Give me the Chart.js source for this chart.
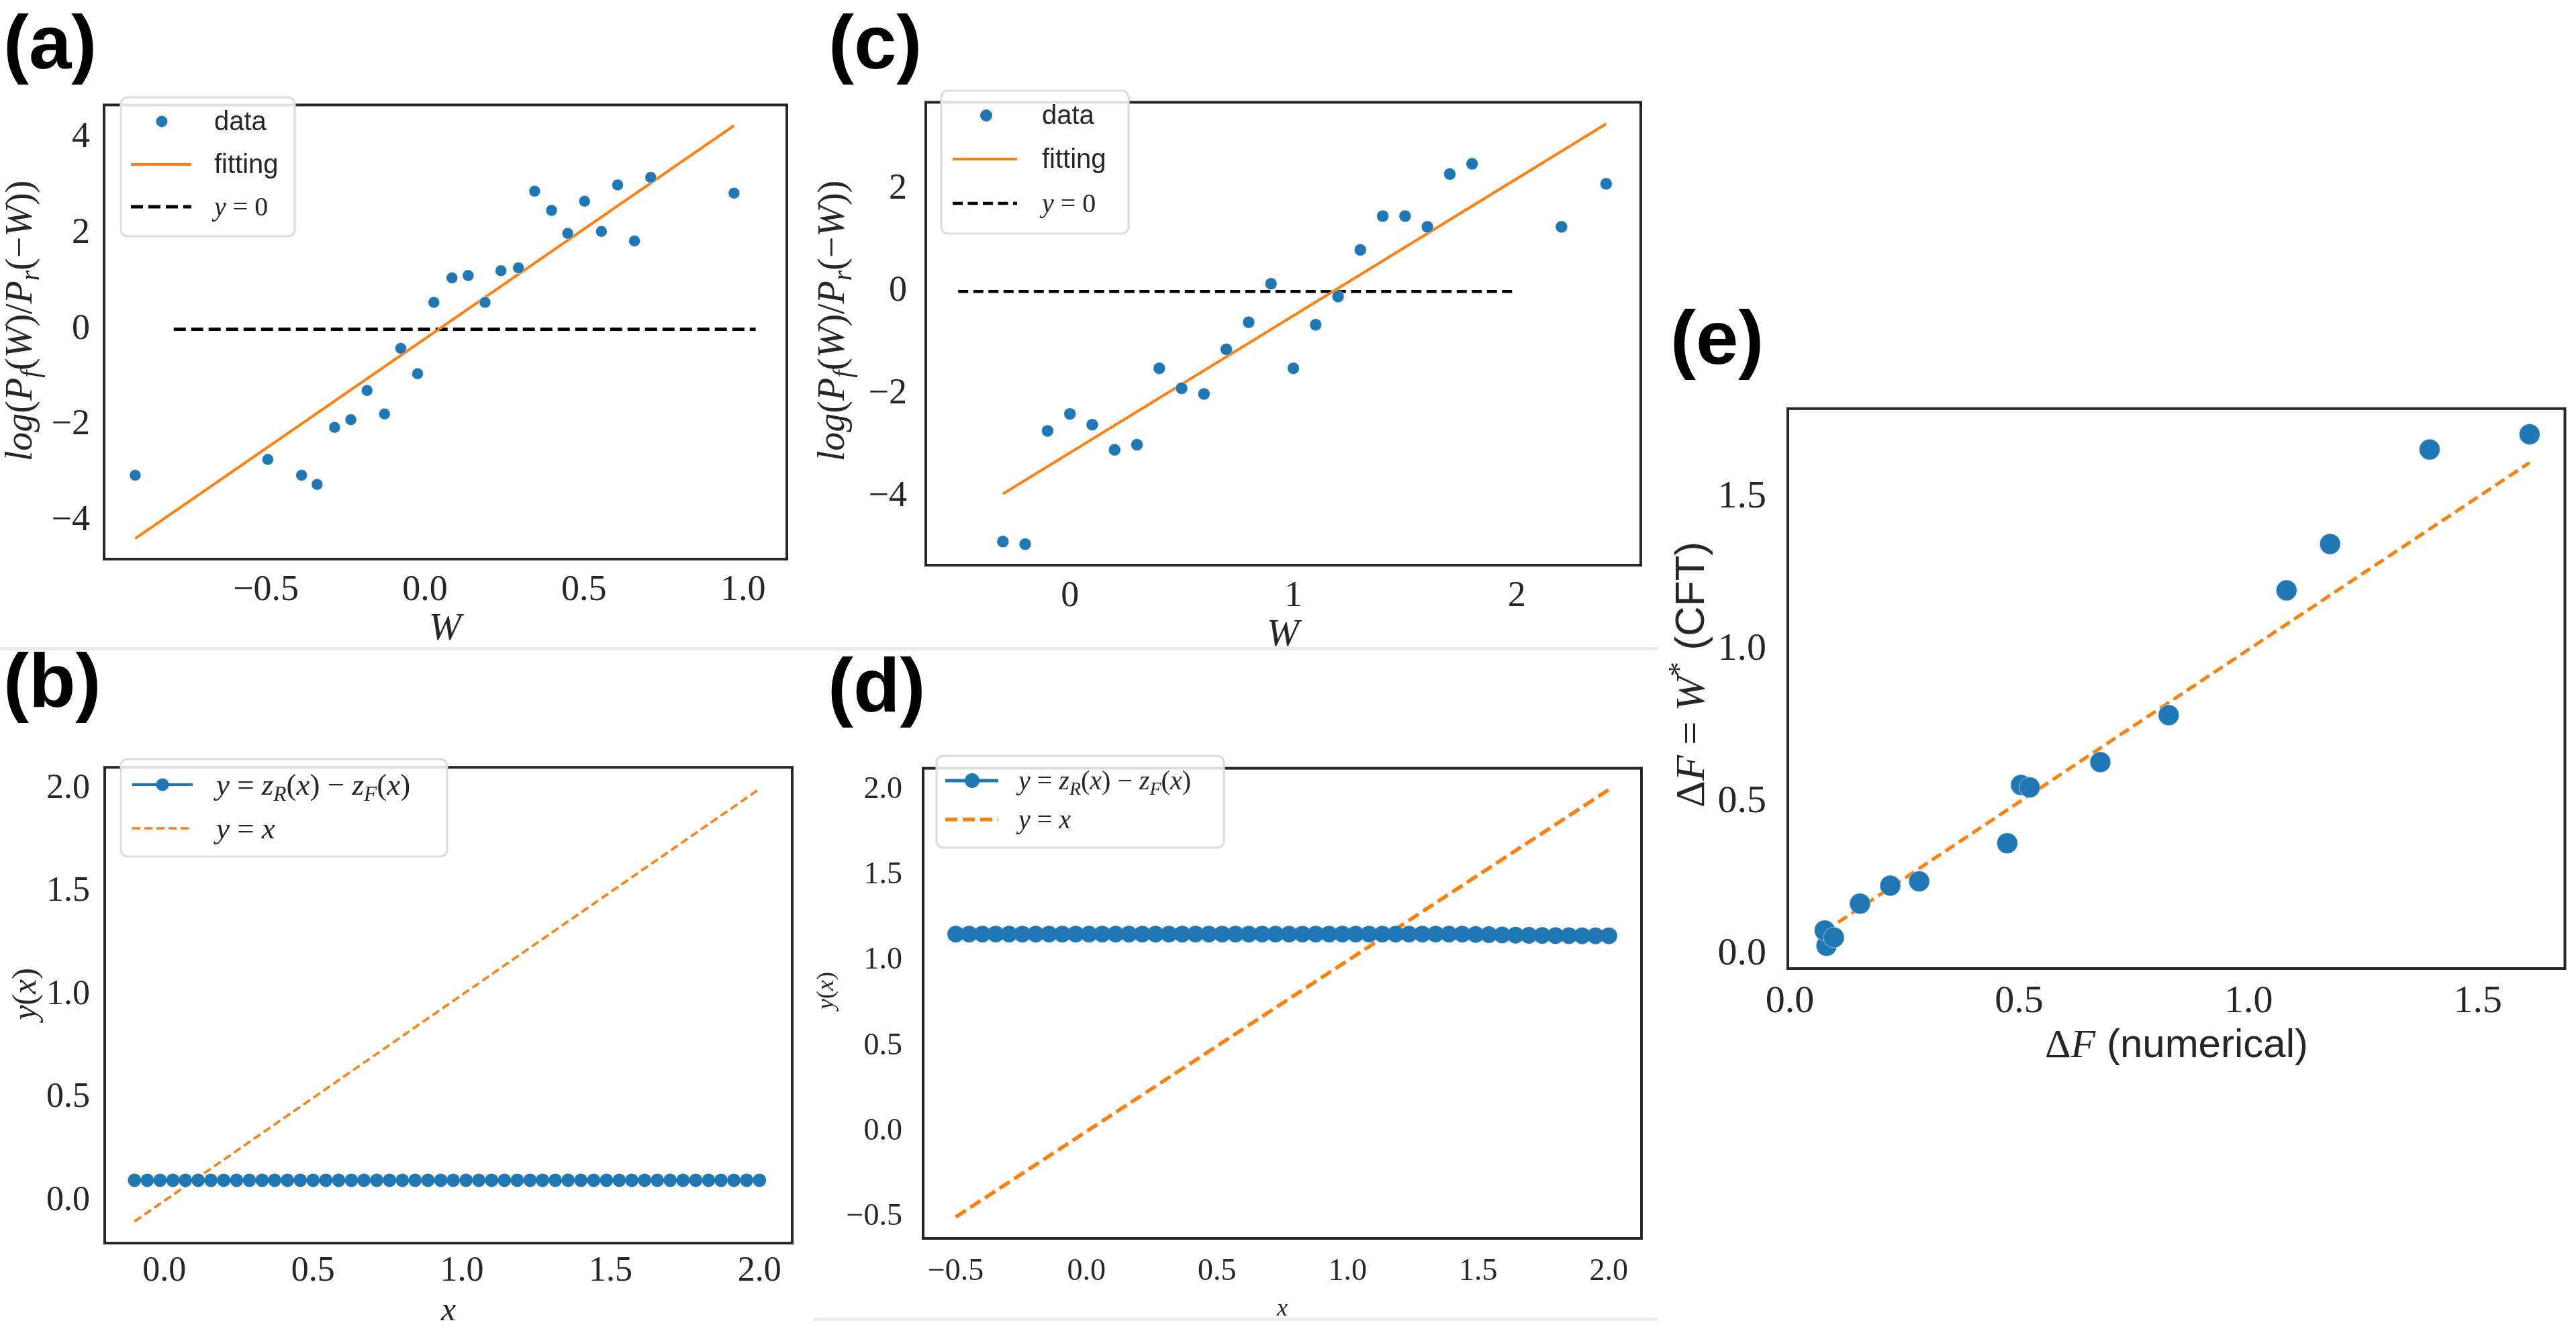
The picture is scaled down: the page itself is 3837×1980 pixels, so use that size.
<!DOCTYPE html>
<html><head><meta charset="utf-8">
<script src="https://cdn.jsdelivr.net/npm/chart.js@4.4.0/dist/chart.umd.min.js"></script>
<style>
html,body{margin:0;padding:0;background:#fff;}
body{width:3837px;height:1980px;position:relative;overflow:hidden;}
canvas{position:absolute;}
.lbl{position:absolute;font-family:'Liberation Sans',Arial,sans-serif;font-weight:bold;font-size:114px;line-height:1;color:#000;}
.sep{position:absolute;background:#ececec;height:5px;}
</style></head><body>
<div class="sep" style="left:0;top:964px;width:2470px"></div>
<div class="sep" style="left:1212px;top:1963px;width:1258px"></div>
<div class="lbl" style="left:5px;top:6px">(a)</div>
<div class="lbl" style="left:5px;top:957px">(b)</div>
<div class="lbl" style="left:1234px;top:6px">(c)</div>
<div class="lbl" style="left:1233px;top:964px">(d)</div>
<div class="lbl" style="left:2488px;top:446px">(e)</div>
<script>
// ---------------- data ----------------
// (a)
const aW   = [-0.911,-0.494,-0.388,-0.339,-0.284,-0.233,-0.182,-0.127,-0.076,-0.023,0.028,0.085,0.136,0.189,0.239,0.294,0.345,0.398,0.449,0.502,0.555,0.606,0.659,0.710,0.972];
const aLog = [-3.05,-2.72,-3.05,-3.24,-2.05,-1.89,-1.28,-1.77,-0.40,-0.93,0.56,1.07,1.12,0.56,1.22,1.28,2.88,2.48,2.00,2.67,2.04,3.01,1.84,3.17,2.84];
const aFitW = [-0.911,0.972], aFitY = [-4.37,4.25];
const aZeroW = [-0.79,1.04], aZeroY = [0,0];
const aXTicks=[-0.5,0,0.5,1], aXLabels=['−0.5','0.0','0.5','1.0'];
const aYTicks=[-4,-2,0,2,4], aYLabels=['−4','−2','0','2','4'];
// (c)
const cW   = [-0.3,-0.2,-0.1,0.0,0.1,0.2,0.3,0.4,0.5,0.6,0.7,0.8,0.9,1.0,1.1,1.2,1.3,1.4,1.5,1.6,1.7,1.8,2.2,2.4];
const cLog = [-4.88,-4.93,-2.72,-2.39,-2.60,-3.09,-2.99,-1.50,-1.89,-2.00,-1.13,-0.60,0.15,-1.50,-0.65,-0.10,0.81,1.47,1.47,1.26,2.29,2.49,1.26,2.10];
const cFitW = [-0.3,2.4], cFitY = [-3.95,3.27];
const cZeroW = [-0.5,2.0], cZeroY = [0,0];
const cXTicks=[0,1,2], cXLabels=['0','1','2'];
const cYTicks=[-4,-2,0,2], cYLabels=['−4','−2','0','2'];
// (b)
const bX = [-0.100,-0.057,-0.014,0.029,0.071,0.114,0.157,0.200,0.243,0.286,0.329,0.371,0.414,0.457,0.500,0.543,0.586,0.629,0.671,0.714,0.757,0.800,0.843,0.886,0.929,0.971,1.014,1.057,1.100,1.143,1.186,1.229,1.271,1.314,1.357,1.400,1.443,1.486,1.529,1.571,1.614,1.657,1.700,1.743,1.786,1.829,1.871,1.914,1.957,2.000];
const bY = [0.1,0.1,0.1,0.1,0.1,0.1,0.1,0.1,0.1,0.1,0.1,0.1,0.1,0.1,0.1,0.1,0.1,0.1,0.1,0.1,0.1,0.1,0.1,0.1,0.1,0.1,0.1,0.1,0.1,0.1,0.1,0.1,0.1,0.1,0.1,0.1,0.1,0.1,0.1,0.1,0.1,0.1,0.1,0.1,0.1,0.1,0.1,0.1,0.1,0.1];
const bLineX = [-0.1,2.0], bLineY = [-0.1,2.0];
const bTicks=[0,0.5,1,1.5,2], bLabels=['0.0','0.5','1.0','1.5','2.0'];
// (d)
const dX = [-0.500,-0.449,-0.398,-0.347,-0.296,-0.245,-0.194,-0.143,-0.092,-0.041,0.010,0.061,0.112,0.163,0.214,0.265,0.316,0.367,0.418,0.469,0.520,0.571,0.622,0.673,0.724,0.776,0.827,0.878,0.929,0.980,1.031,1.082,1.133,1.184,1.235,1.286,1.337,1.388,1.439,1.490,1.541,1.592,1.643,1.694,1.745,1.796,1.847,1.898,1.949,2.000];
const dY = [1.155,1.155,1.155,1.155,1.155,1.155,1.155,1.155,1.155,1.155,1.155,1.155,1.155,1.155,1.155,1.155,1.155,1.155,1.155,1.155,1.155,1.155,1.155,1.155,1.155,1.155,1.155,1.155,1.155,1.155,1.155,1.155,1.155,1.155,1.155,1.155,1.155,1.155,1.155,1.153,1.152,1.150,1.149,1.148,1.147,1.146,1.146,1.145,1.145,1.145];
const dLineX = [-0.5,2.0], dLineY = [-0.5,2.0];
const dTicks=[-0.5,0,0.5,1,1.5,2], dLabels=['−0.5','0.0','0.5','1.0','1.5','2.0'];
// (e)
const eNum = [0.080,0.076,0.096,0.153,0.219,0.282,0.474,0.504,0.523,0.677,0.826,1.083,1.178,1.395,1.613];
const eCFT = [0.029,0.079,0.056,0.167,0.226,0.240,0.365,0.556,0.548,0.631,0.785,1.194,1.346,1.656,1.706];
const eLineX = [0.076,1.613], eLineY = [0.076,1.613];
const eTicks=[0,0.5,1,1.5], eLabels=['0.0','0.5','1.0','1.5'];

// ---------------- helpers ----------------
const BLUE='#1f77b4', ORANGE='#ff7f0e', INK='#262626';
const SERIF="'Liberation Serif','DejaVu Serif',serif";
const SANS="'Liberation Sans','DejaVu Sans',sans-serif";
const pts=(xs,ys)=>xs.map((x,i)=>({x:x,y:ys[i]}));
const R=t=>({t,s:'r'}), I=t=>({t,s:'i'}), S=t=>({t,s:'s'}), Sub=t=>({t,s:'i',sub:true}), Sup=t=>({t,s:'r',sup:true});

function fontFor(g,size){
  const sz=(g.sub||g.sup)?size*0.7:size;
  if(g.s==='s') return sz+'px '+SANS;
  if(g.s==='i') return 'italic '+sz+'px '+SERIF;
  return sz+'px '+SERIF;
}
function drawRich(ctx,segs,x,y,size,opt){
  ctx.save(); ctx.translate(x,y); if(opt.rot) ctx.rotate(opt.rot);
  let w=0; for(const g of segs){ctx.font=fontFor(g,size); w+=ctx.measureText(g.t).width;}
  let cx=opt.align==='center'?-w/2:0;
  const base=size*(opt.base!=null?opt.base:0.33);
  ctx.fillStyle=INK; ctx.textBaseline='alphabetic'; ctx.textAlign='left';
  for(const g of segs){
    ctx.font=fontFor(g,size);
    let dy=base; if(g.sub) dy+=size*0.2; if(g.sup) dy-=size*0.38;
    ctx.fillText(g.t,cx,dy); cx+=ctx.measureText(g.t).width;
  }
  ctx.restore();
}
function drawLegend(ctx,chart,L){
  ctx.save();
  ctx.beginPath();
  if(ctx.roundRect) ctx.roundRect(L.x,L.y,L.w,L.h,10); else ctx.rect(L.x,L.y,L.w,L.h);
  ctx.fillStyle='rgba(255,255,255,0.85)'; ctx.fill();
  ctx.strokeStyle='#dcdcdc'; ctx.lineWidth=3; ctx.stroke();
  for(const it of L.items){
    const ds=chart.data.datasets[it.ds];
    if(it.line){
      ctx.beginPath(); ctx.setLineDash(ds.borderDash||[]); ctx.lineWidth=ds.borderWidth;
      ctx.strokeStyle=ds.borderColor; ctx.moveTo(L.hx0,it.y); ctx.lineTo(L.hx1,it.y); ctx.stroke(); ctx.setLineDash([]);
    }
    if(it.marker){
      ctx.beginPath(); ctx.fillStyle=ds.pointBackgroundColor; ctx.arc(L.mx,it.y,it.r||ds.pointRadius,0,Math.PI*2); ctx.fill();
    }
    drawRich(ctx,it.segs,L.tx,it.y,L.size,{align:'left',base:0.33});
  }
  ctx.restore();
}
const deco={id:'deco',afterDraw(chart){
  const o=chart.canvas.decoCfg; if(!o) return;
  const ctx=chart.ctx, a=chart.chartArea;
  ctx.save();
  ctx.strokeStyle=INK; ctx.lineWidth=4; ctx.setLineDash([]);
  ctx.strokeRect(a.left,a.top,a.right-a.left,a.bottom-a.top);
  ctx.translate(-o.ox,-o.oy);
  for(const t of o.titles) drawRich(ctx,t.segs,t.x,t.y,t.size,{align:'center',rot:t.rot||0,base:t.base});
  if(o.legend) drawLegend(ctx,chart,o.legend);
  ctx.restore();
}};
function axis(min,max,ticks,labels,size,pad,isX,fit){
  return {type:'linear',min:min,max:max,
    afterBuildTicks:s=>{s.ticks=ticks.map(v=>({value:v}));},
    afterFit:s=>{ if(isX) s.height=fit; else s.width=fit; },
    grid:{display:false,drawTicks:false,tickLength:0},
    border:{display:false},
    ticks:{autoSkip:false,maxRotation:0,minRotation:0,padding:pad,color:INK,font:{family:SERIF,size:size},
      callback:(v,i)=>labels[i]}
  };
}
function panel(p){
  const f=p.frame;
  const ox=f.l-p.padL, oy=f.t-p.padT;
  const W=f.r-f.l+p.padL+p.padR, H=f.b-f.t+p.padT+p.padB;
  const c=document.createElement('canvas');
  c.width=W; c.height=H; c.style.left=ox+'px'; c.style.top=oy+'px'; c.style.width=W+'px'; c.style.height=H+'px';
  c.decoCfg={ox:ox,oy:oy,titles:p.titles,legend:p.legend};
  document.body.appendChild(c);
  new Chart(c,{type:'scatter',data:{datasets:p.datasets},options:{
    responsive:false,animation:false,devicePixelRatio:1,
    layout:{padding:{left:0,top:p.padT,right:p.padR,bottom:0}},
    plugins:{legend:{display:false},tooltip:{enabled:false}},
    scales:{
      x:axis(p.x[0],p.x[1],p.xt,p.xl,p.tick,p.xpad,true,p.padB),
      y:axis(p.y[0],p.y[1],p.yt,p.yl,p.tick,p.ypad,false,p.padL)
    }},plugins:[deco]});
}
const dots=(data,r)=>({data:data,showLine:false,pointRadius:r,pointBackgroundColor:BLUE,pointBorderColor:'rgba(255,255,255,0.5)',pointBorderWidth:1,borderColor:BLUE});
const line=(data,color,w,dash)=>({data:data,showLine:true,pointRadius:0,borderColor:color,borderWidth:w,borderDash:dash||[],backgroundColor:color});

const logTitle=[I('log'),R('('),I('P'),Sub('f'),R('('),I('W'),R(')/'),I('P'),Sub('r'),R('(−'),I('W'),R('))')];
const yx=[I('y'),R('('),I('x'),R(')')];
const zLeg=[I('y'),R(' = '),I('z'),Sub('R'),R('('),I('x'),R(') − '),I('z'),Sub('F'),R('('),I('x'),R(')')];
const yeqx=[I('y'),R(' = '),I('x')];

// (a)
panel({frame:{l:155,t:123,r:1172,b:833},padL:155,padT:20,padR:20,padB:130,
  x:[-1.009,1.138],y:[-4.80,4.68],xt:aXTicks,xl:aXLabels,yt:aYTicks,yl:aYLabels,tick:54,xpad:14,ypad:21,
  datasets:[dots(pts(aW,aLog),8.5),line(pts(aFitW,aFitY),ORANGE,4),line(pts(aZeroW,aZeroY),'#000',5,[18,8])],
  titles:[{segs:logTitle,x:33,y:478,size:56,rot:-Math.PI/2,base:0.25},{segs:[I('W')],x:663,y:934,size:58,base:0.33}],
  legend:{x:180,y:145,w:259,h:207,hx0:195,hx1:285,mx:241,tx:319,size:40,items:[
    {ds:0,marker:true,y:181,segs:[S('data')]},{ds:1,line:true,y:245,segs:[S('fitting')]},{ds:2,line:true,y:308,segs:[I('y'),R(' = 0')]}]}
});
// (c)
panel({frame:{l:1379,t:112,r:2444,b:842},padL:179,padT:20,padR:30,padB:125,
  x:[-0.645,2.555],y:[-5.34,3.69],xt:cXTicks,xl:cXLabels,yt:cYTicks,yl:cYLabels,tick:54,xpad:14,ypad:28,
  datasets:[dots(pts(cW,cLog),9),line(pts(cFitW,cFitY),ORANGE,4),line(pts(cZeroW,cZeroY),'#000',4.5,[15,7.5])],
  titles:[{segs:logTitle,x:1243,y:478,size:56,rot:-Math.PI/2,base:0.25},{segs:[I('W')],x:1911,y:943,size:58,base:0.33}],
  legend:{x:1402,y:135,w:279,h:213,hx0:1419,hx1:1515,mx:1469,tx:1552,size:40,items:[
    {ds:0,marker:true,y:172,segs:[S('data')]},{ds:1,line:true,y:237,segs:[S('fitting')]},{ds:2,line:true,y:303,segs:[I('y'),R(' = 0')]}]}
});
// (b)
panel({frame:{l:156,t:1110,r:1180,b:1852},padL:156,padT:20,padR:20,padB:123,
  x:[-0.2,2.11],y:[-0.205,2.105],xt:bTicks,xl:bLabels,yt:bTicks,yl:bLabels,tick:52,xpad:11,ypad:22,
  datasets:[{data:pts(bX,bY),showLine:true,pointRadius:10,pointBackgroundColor:BLUE,pointBorderWidth:0,borderColor:BLUE,borderWidth:4},
            line(pts(bLineX,bLineY),ORANGE,3.5,[12,6])],
  titles:[{segs:yx,x:40,y:1481,size:50,rot:-Math.PI/2,base:0.25},{segs:[I('x')],x:668,y:1955,size:50,base:0.23}],
  legend:{x:180,y:1131,w:486,h:145,hx0:197,hx1:287,mx:242,tx:322,size:45,items:[
    {ds:0,line:true,marker:true,r:9.5,y:1169,segs:zLeg},{ds:1,line:true,y:1234,segs:yeqx}]}
});
// (d)
panel({frame:{l:1375,t:1106,r:2445,b:1845},padL:175,padT:20,padR:30,padB:125,
  x:[-0.625,2.125],y:[-0.625,2.125],xt:dTicks,xl:dLabels,yt:dTicks,yl:dLabels,tick:46,xpad:22,ypad:31,
  datasets:[{data:pts(dX,dY),showLine:true,pointRadius:12.5,pointBackgroundColor:BLUE,pointBorderWidth:0,borderColor:BLUE,borderWidth:5},
            line(pts(dLineX,dLineY),ORANGE,5.5,[18,8])],
  titles:[{segs:yx,x:1232,y:1476,size:36,rot:-Math.PI/2,base:0.25},{segs:[I('x')],x:1910,y:1952,size:36,base:0.23}],
  legend:{x:1395,y:1126,w:428,h:137,hx0:1408,hx1:1487,mx:1448,tx:1517,size:40,items:[
    {ds:0,line:true,marker:true,r:11,y:1163,segs:zLeg},{ds:1,line:true,y:1221,segs:yeqx}]}
});
// (e)
panel({frame:{l:2663,t:562,r:3821,b:1443},padL:193,padT:20,padR:16,padB:177,
  x:[-0.0044,1.690],y:[-0.046,1.79],xt:eTicks,xl:eLabels,yt:eTicks,yl:eLabels,tick:58,xpad:15,ypad:32,
  datasets:[dots(pts(eNum,eCFT),15.5),line(pts(eLineX,eLineY),ORANGE,5,[16,8])],
  titles:[{segs:[R('Δ'),I('F'),R(' = '),I('W'),Sup('*'),S(' (CFT)')],x:2521,y:1005,size:62,rot:-Math.PI/2,base:0.28},
          {segs:[R('Δ'),I('F'),S(' (numerical)')],x:3242,y:1557,size:60,base:0.3}],
  legend:null
});
</script>
</body></html>
